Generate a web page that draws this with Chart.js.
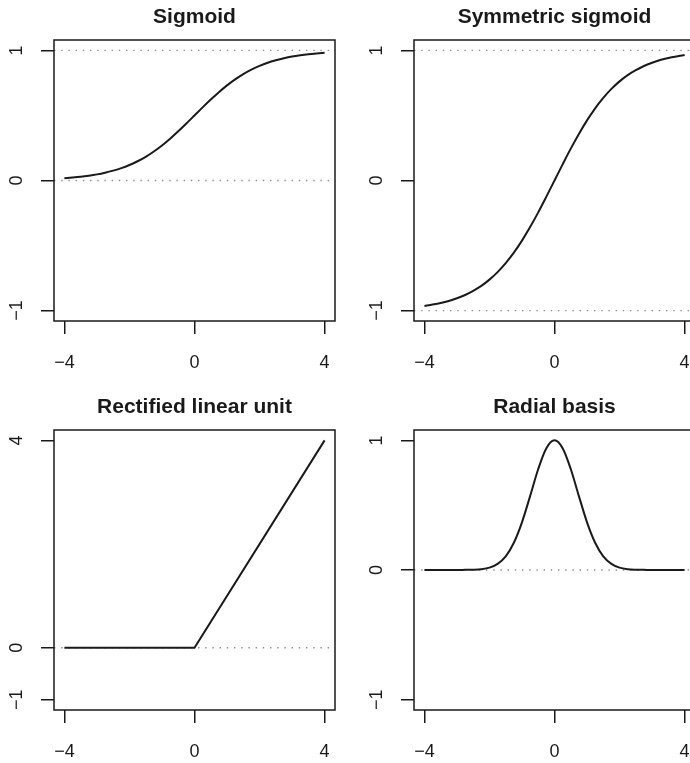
<!DOCTYPE html>
<html>
<head>
<meta charset="utf-8">
<script src="https://cdn.jsdelivr.net/npm/chart.js@4/dist/chart.umd.min.js"></script>
<style>
  body { margin: 0; background: #fff; overflow: hidden; }
  #wrap { position: relative; width: 690px; height: 763px; overflow: hidden; }
  canvas { position: absolute; }
</style>
</head>
<body>
<div id="wrap">
  <canvas id="c1" width="345" height="381" style="left:0;top:0"></canvas>
  <canvas id="c2" width="355" height="381" style="left:345px;top:0"></canvas>
  <canvas id="c3" width="345" height="373" style="left:0;top:390px"></canvas>
  <canvas id="c4" width="355" height="373" style="left:345px;top:390px"></canvas>
</div>
<script>
const xGrid = [-4, -3.75, -3.5, -3.25, -3, -2.75, -2.5, -2.25, -2, -1.75, -1.5, -1.25, -1, -0.75, -0.5, -0.25,
               0, 0.25, 0.5, 0.75, 1, 1.25, 1.5, 1.75, 2, 2.25, 2.5, 2.75, 3, 3.25, 3.5, 3.75, 4];

const sigmoidY = [0.018, 0.023, 0.029, 0.037, 0.047, 0.060, 0.076, 0.095, 0.119, 0.148, 0.182, 0.223, 0.269, 0.321, 0.378, 0.438,
                  0.500, 0.562, 0.622, 0.679, 0.731, 0.777, 0.818, 0.852, 0.881, 0.905, 0.924, 0.940, 0.953, 0.963, 0.971, 0.977, 0.982];

const symSigmoidY = [-0.964, -0.954, -0.942, -0.926, -0.905, -0.880, -0.848, -0.810, -0.762, -0.704, -0.635, -0.555, -0.462, -0.358, -0.245, -0.124,
                     0, 0.124, 0.245, 0.358, 0.462, 0.555, 0.635, 0.704, 0.762, 0.810, 0.848, 0.880, 0.905, 0.926, 0.942, 0.954, 0.964];

const reluX = [-4, 0, 4];
const reluY = [0, 0, 4];

const radialY = [0, 0, 0, 0, 0, 0.001, 0.002, 0.006, 0.018, 0.047, 0.105, 0.210, 0.368, 0.570, 0.779, 0.939,
                 1, 0.939, 0.779, 0.570, 0.368, 0.210, 0.105, 0.047, 0.018, 0.006, 0.002, 0.001, 0, 0, 0, 0, 0];

// tick labels
const xTicks = [-4, 0, 4];
const unitTicks = [-1, 0, 1];
const reluTicks = [-1, 0, 4];

// axis limits
const xRange = [-4.32, 4.32];
const unitRange = [-1.08, 1.08];
const reluRange = [-1.2, 4.2];

// dotted reference lines
const sigmoidRefs = [0, 1];
const symSigmoidRefs = [-1, 1];
const reluRefs = [0];
const radialRefs = [0];

const INK = "#1a1a1a";
const fmt = v => (v < 0 ? "\u2212" + Math.abs(v) : String(v));

// box round the plot + title over it, like base R graphics
const framePlugin = {
    id: "frame",
    afterDraw(chart) {
        const { ctx, chartArea: a } = chart;
        ctx.save();
        ctx.strokeStyle = INK;
        ctx.lineWidth = 1.5;
        ctx.strokeRect(a.left, a.top, a.right - a.left, a.bottom - a.top);
        ctx.fillStyle = INK;
        ctx.font = "bold 21px 'Liberation Sans', Arial, sans-serif";
        ctx.textAlign = "center";
        ctx.textBaseline = "alphabetic";
        ctx.fillText(chart.options.plugins.frame.title, (a.left + a.right) / 2, a.top - 17);
        ctx.restore();
    }
};

function noPad(s) {
    s.paddingLeft = 0; s.paddingRight = 0; s.paddingTop = 0; s.paddingBottom = 0;
}

function panel(id, title, xs, ys, yTicks, yRange, refs, yAxisW, xAxisH, padRight, smooth) {
    const datasets = [{
        data: xs.map((x, i) => ({ x: x, y: ys[i] })),
        borderColor: INK,
        borderWidth: 2,
        pointRadius: 0,
        cubicInterpolationMode: smooth ? "monotone" : "default",
        tension: 0
    }];
    refs.forEach(r => datasets.push({
        data: [{ x: xRange[0], y: r }, { x: xRange[1], y: r }],
        borderColor: "#8c8c8c",
        borderWidth: 1.4,
        borderDash: [1.4, 5.8],
        pointRadius: 0
    }));

    return new Chart(document.getElementById(id), {
        type: "line",
        data: { datasets },
        plugins: [framePlugin],
        options: {
            responsive: false,
            animation: false,
            layout: { padding: { top: 40, right: padRight, left: 0, bottom: 0 } },
            plugins: { legend: { display: false }, tooltip: { enabled: false }, frame: { title } },
            scales: {
                x: {
                    type: "linear",
                    min: xRange[0],
                    max: xRange[1],
                    afterBuildTicks: s => { s.ticks = xTicks.map(v => ({ value: v })); },
                    afterFit: s => { s.height = xAxisH; noPad(s); },
                    border: { display: false },
                    grid: { drawOnChartArea: false, drawTicks: true, tickLength: 13, color: INK, lineWidth: 1.5 },
                    ticks: { callback: fmt, color: INK, padding: 18, maxRotation: 0,
                             font: { family: "'Liberation Sans', Arial, sans-serif", size: 18 } }
                },
                y: {
                    type: "linear",
                    min: yRange[0],
                    max: yRange[1],
                    afterBuildTicks: s => { s.ticks = yTicks.map(v => ({ value: v })); },
                    afterFit: s => { s.width = yAxisW; noPad(s); },
                    border: { display: false },
                    grid: { drawOnChartArea: false, drawTicks: true, tickLength: 13, color: INK, lineWidth: 1.5 },
                    ticks: { callback: fmt, color: INK, padding: 14, minRotation: 90, maxRotation: 90, crossAlign: "center",
                             font: { family: "'Liberation Sans', Arial, sans-serif", size: 18 } }
                }
            }
        }
    });
}

panel("c1", "Sigmoid", xGrid, sigmoidY, unitTicks, unitRange, sigmoidRefs, 54, 60, 10, true);
panel("c2", "Symmetric sigmoid", xGrid, symSigmoidY, unitTicks, unitRange, symSigmoidRefs, 69, 60, 5, true);
panel("c3", "Rectified linear unit", reluX, reluY, reluTicks, reluRange, reluRefs, 54, 53, 10, false);
panel("c4", "Radial basis", xGrid, radialY, unitTicks, unitRange, radialRefs, 69, 53, 5, true);
</script>
</body>
</html>
